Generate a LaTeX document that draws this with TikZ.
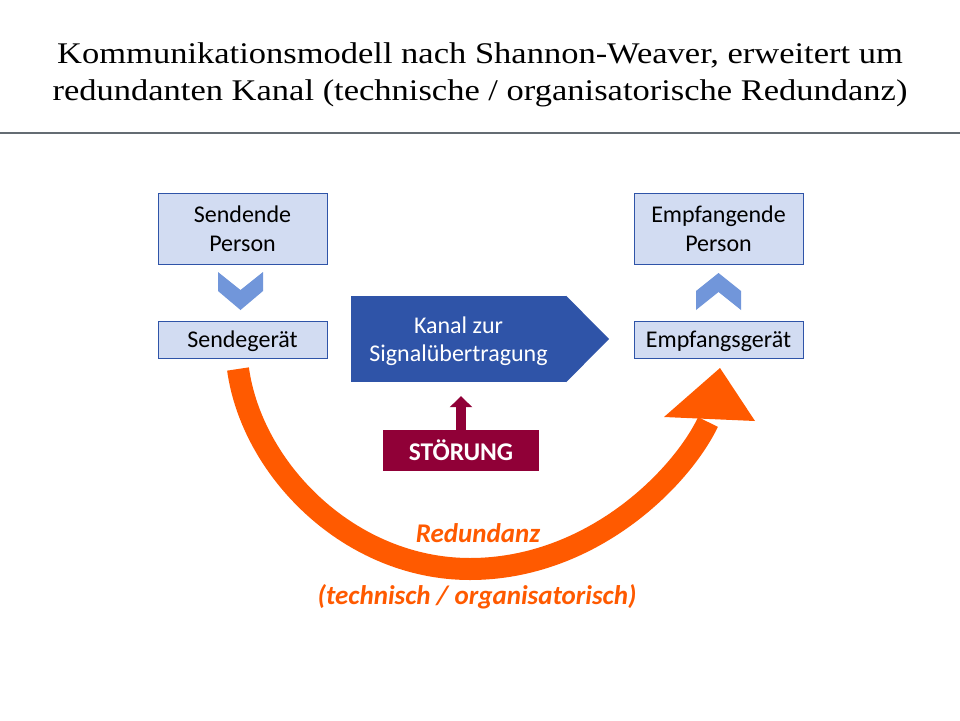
\documentclass[tikz,border=0pt]{standalone}
\usepackage{fontspec}
\setmainfont{Carlito}
\newfontfamily\titlefont[FakeStretch=1.15]{Liberation Serif}
\usetikzlibrary{arrows.meta,calc}
\definecolor{boxfill}{HTML}{D2DCF2}
\definecolor{boxline}{HTML}{2F54A8}
\definecolor{kanalblue}{HTML}{2F54A8}
\definecolor{chevblue}{HTML}{7196DA}
\definecolor{stoerred}{HTML}{900037}
\definecolor{redorange}{HTML}{FF5A00}
\definecolor{rulegray}{HTML}{646C73}
\tikzset{
  personbox/.style={draw=boxline, line width=1pt, fill=boxfill, minimum width=169pt, minimum height=71pt, inner sep=0pt, align=center, font=\fontsize{24}{29}\selectfont},
  devicebox/.style={draw=boxline, line width=1pt, fill=boxfill, minimum width=169pt, minimum height=37pt, inner sep=0pt, text depth=0pt, align=center, font=\fontsize{24}{28}\selectfont},
  kanalbox/.style={fill=kanalblue, minimum width=215pt, minimum height=86pt, inner sep=0pt, text depth=0pt, align=center, text=white, font=\fontsize{24}{28}\selectfont},
  stoerbox/.style={fill=stoerred, minimum width=156pt, minimum height=41pt, inner sep=0pt, text=white, font=\fontsize{25.5}{28}\selectfont\bfseries},
  stoerarrow/.style={draw=stoerred, line width=10pt, -{Triangle[width=22pt,length=11pt]}},
  chevron/.style={fill=chevblue},
  redband/.style={draw=redorange, line width=22pt},
  redlabel/.style={text=redorange, font=\fontsize{27}{30}\selectfont\bfseries\itshape},
  titletext/.style={align=center, font=\titlefont\fontsize{30}{37}\selectfont},
}
\begin{document}
\begin{tikzpicture}[x=1pt,y=-1pt]
\useasboundingbox (0,0) rectangle (960,720);
\fill[white] (0,0) rectangle (960,720);

\node[titletext, anchor=base] (title) at (480,100) {Kommunikationsmodell nach Shannon-Weaver, erweitert um\\redundanten Kanal (technische / organisatorische Redundanz)};
\draw[rulegray, line width=1.5pt] (0,133) -- (960,133);

\node[personbox] (sp) at (242.5,228.5) {Sendende\\Person};
\node[devicebox] (sg) at (242.5,339.5) {Sendegerät};
\node[personbox] (ep) at (718.5,228.5) {Empfangende\\Person};
\node[devicebox] (eg) at (718.5,339.5) {Empfangsgerät};

% chevrons
\fill[chevron] (218,272) -- (240.5,290) -- (263,272) -- (263,291) -- (240.5,310) -- (218,291) -- cycle;
\fill[chevron] (696,310) -- (718.5,292) -- (741,310) -- (741,291) -- (718.5,273) -- (696,291) -- cycle;

% channel arrow
\node[kanalbox] (kanal) at (458.5,339) {Kanal zur\\Signalübertragung};
\fill[kanalblue] (kanal.north east) -- (609,339) -- (kanal.south east) -- cycle;

% disturbance
\node[stoerbox] (stoer) at (461,450.5) {STÖRUNG};
\draw[stoerarrow, shorten >=14pt] (stoer.north) -- (stoer.north |- kanal.south);

% redundancy arc
\coordinate (rstart) at (238,369);
\coordinate (rbottom) at (470,569);
\coordinate (rend) at (708,422);
\draw[redband] (rstart) .. controls (252,470) and (350,569) .. (rbottom)
  .. controls (590,569) and (680,480) .. (rend);
\fill[redorange] (664,417) -- (720,368) -- (755,421) -- cycle;

\node[redlabel] (red1) at (478,533) {Redundanz};
\node[redlabel] (red2) at (477,597) {(technisch / organisatorisch)};
\end{tikzpicture}
\end{document}
